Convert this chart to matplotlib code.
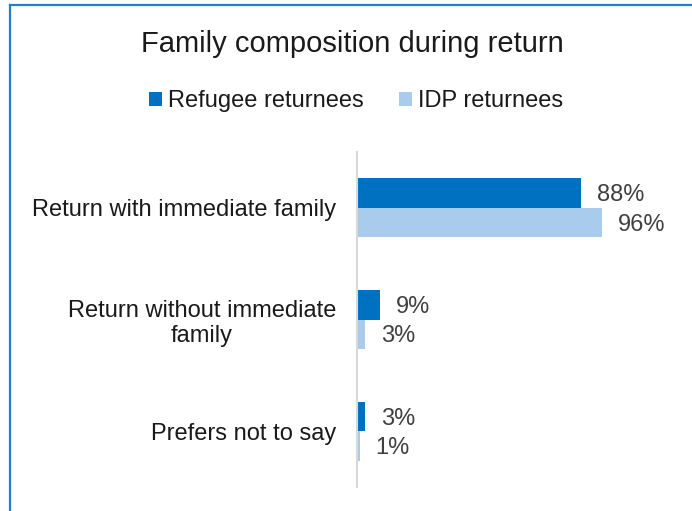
import matplotlib
matplotlib.use("Agg")
import matplotlib.pyplot as plt
from matplotlib.lines import Line2D

plt.rcParams["font.family"] = ["Liberation Sans", "DejaVu Sans"]

# data
categories = ["Return with immediate family",
              "Return without immediate\nfamily",
              "Prefers not to say"]
refugee = [88, 9, 3]
idp = [96, 3, 1]
series_names = ["Refugee returnees", "IDP returnees"]

DARK = "#0070C0"
LIGHT = "#A9CBEC"
TEXT = "#404040"

W, H = 692, 511
fig = plt.figure(figsize=(W / 100, H / 100), dpi=100)
fig.patch.set_facecolor("white")

# plot area
ax = fig.add_axes([357 / W, 24 / H, 255 / W, 335 / H])
ax.set_facecolor("white")

h = 0.264
ys = list(range(len(categories)))
b1 = ax.barh([y - h / 2 for y in ys], refugee, height=h, color=DARK, label=series_names[0])
b2 = ax.barh([y + h / 2 for y in ys], idp, height=h, color=LIGHT, label=series_names[1])

for bars, vals in ((b1, refugee), (b2, idp)):
    for bar, v in zip(bars, vals):
        ax.annotate(f"{v}%", (bar.get_width(), bar.get_y() + bar.get_height() / 2),
                    xytext=(11.5, -1.5), textcoords="offset points",
                    ha="left", va="center", fontsize=17, color=TEXT)

ax.set_xlim(0, 100)
ax.set_ylim(2.5, -0.5)
ax.set_yticks(ys)
ax.set_yticklabels(categories, fontsize=17, color="#1a1a1a", linespacing=1.15,
                   multialignment="center")
ax.tick_params(axis="y", length=0, pad=15)
ax.set_xticks([])
for side in ("top", "right", "bottom"):
    ax.spines[side].set_visible(False)
ax.spines["left"].set_color("#D9D9D9")
ax.spines["left"].set_linewidth(1.5)

fig.text(352 / W, 1 - 44 / H, "Family composition during return",
         ha="center", va="center", fontsize=21, color="#1a1a1a")

fig.legend(handles=[b1, b2], labels=series_names, loc="center",
           bbox_to_anchor=(356 / W, 1 - 101 / H), ncol=2, frameon=False,
           fontsize=17, handlelength=0.55, handleheight=0.55,
           handletextpad=0.25, columnspacing=1.5, labelcolor="#1a1a1a")

# chart border (only left and top visible in the crop)
bx, by = 10 / W, 1 - 5 / H
fig.add_artist(Line2D([bx, bx], [0, by], transform=fig.transFigure,
                      color="#1F7FD6", linewidth=1.6))
fig.add_artist(Line2D([bx, 1], [by, by], transform=fig.transFigure,
                      color="#1F7FD6", linewidth=1.6))

fig.savefig("out.png", dpi=100, facecolor="white")
